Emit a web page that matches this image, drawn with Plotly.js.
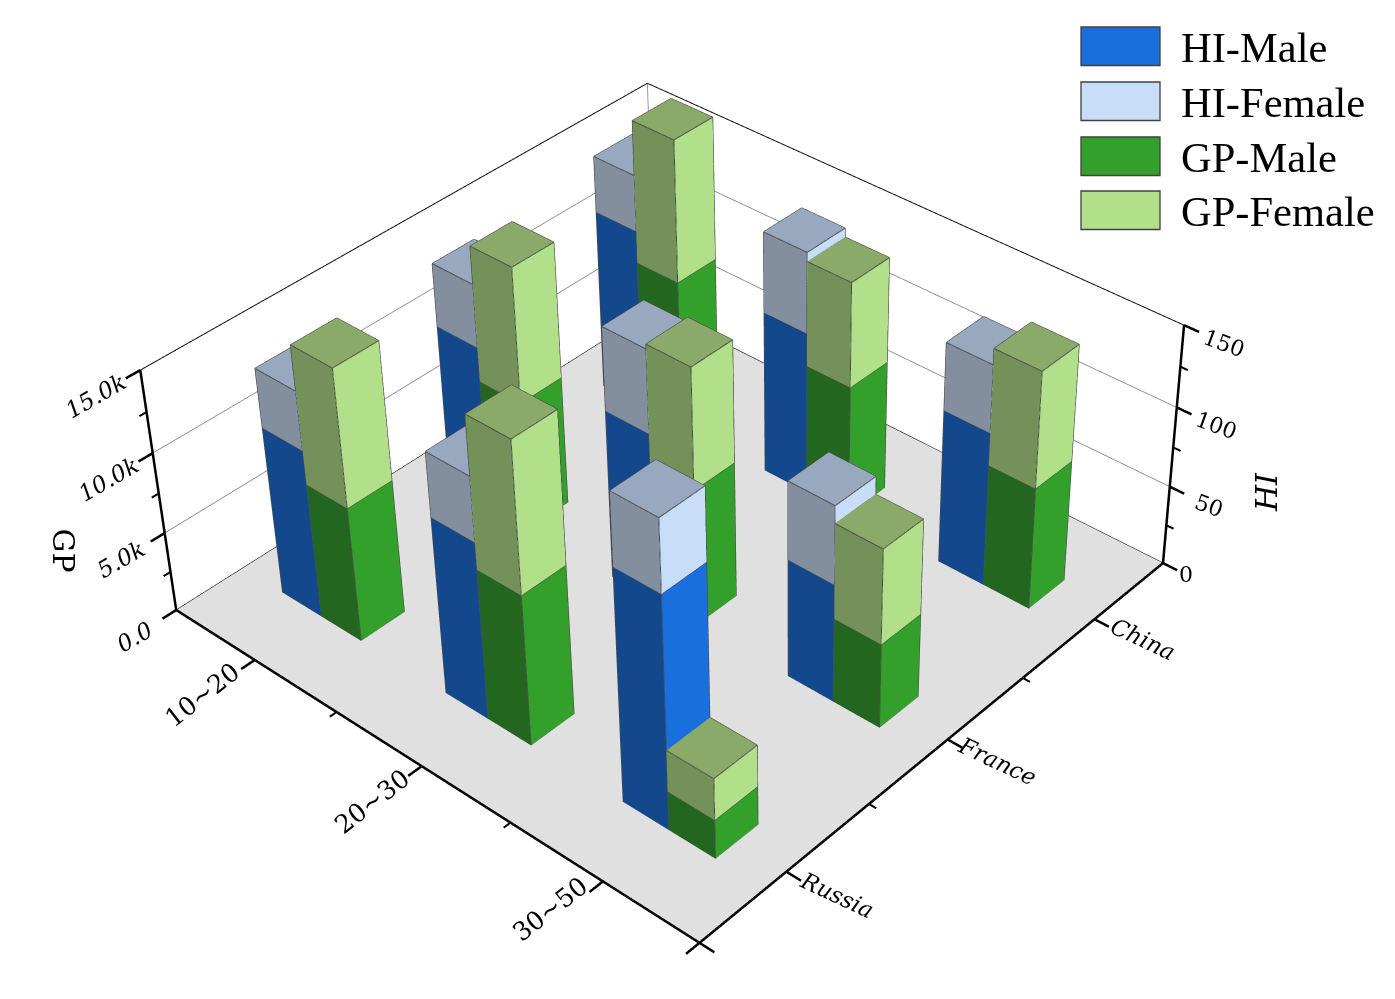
<!DOCTYPE html>
<html><head><meta charset="utf-8">
<script src="https://cdn.plot.ly/plotly-3.0.0.min.js"></script>
<style>html,body{margin:0;padding:0;width:1395px;height:999px;overflow:hidden;background:#fff}
#plot{position:absolute}</style></head>
<body><div id="plot"></div>
<script>
// ---- data ----
var ages = ['10~20','20~30','30~50'];
var countries = ['Russia','France','China'];
var hiMale   = [[105,103,115],[110,106,103],[143,74,97]];
var hiFemale = [[36,39,35],[39,51,50],[43,48,41.6]];
var gpMale   = [[8430,8170,9500],[9365,8560,8250],[2440,5290,7690]];
var gpFemale = [[8400,8340,8850],[9095,7430,6500],[2580,5840,7150]];
var seriesNames = ['HI-Male','HI-Female','GP-Male','GP-Female'];
var gpTicks = [0,5000,10000,15000];
var gpTickText = ['0.0','5.0k','10.0k','15.0k'];
var hiTicks = [0,50,100,150];

// ---- geometry of the view ----
var W=1600,H=2640,CX=794,CY=430;
var plot=document.getElementById('plot');
plot.style.left=(CX-W/2)+'px'; plot.style.top=(CY-H/2)+'px';
var HI_TO_Z=100, BX=0.245, BY=0.125;
var faceCols={
 'HI-Male':  ['#1A6FDF','#13488D','#2a5fa8'],
 'HI-Female':['#C8DDF8','#838F9F','#98A8BE'],
 'GP-Male':  ['#33A02C','#236620','#2f8a2a'],
 'GP-Female':['#B2DF8A','#739158','#89AA69']};

function box(mesh,edges,x0,x1,y0,y1,z0,z1,cols){
  var n=mesh.x.length;
  var c=[[x0,y0,z0],[x1,y0,z0],[x1,y1,z0],[x0,y1,z0],[x0,y0,z1],[x1,y0,z1],[x1,y1,z1],[x0,y1,z1]];
  c.forEach(function(p){mesh.x.push(p[0]);mesh.y.push(p[1]);mesh.z.push(p[2]);});
  function quad(a,b,cc,d,col){mesh.i.push(n+a,n+a);mesh.j.push(n+b,n+cc);mesh.k.push(n+cc,n+d);mesh.facecolor.push(col,col);}
  quad(1,2,6,5,cols[0]);   // +x face
  quad(0,1,5,4,cols[1]);   // -y face
  quad(4,5,6,7,cols[2]);   // top
  [[0,1],[1,2],[1,5],[2,6],[0,4],[4,5],[5,6],[6,7],[7,4]].forEach(function(e){
    edges.x.push(c[e[0]][0],c[e[1]][0],null);
    edges.y.push(c[e[0]][1],c[e[1]][1],null);
    edges.z.push(c[e[0]][2],c[e[1]][2],null);
  });
}
function newMesh(name){return {type:'mesh3d',name:name,x:[],y:[],z:[],i:[],j:[],k:[],facecolor:[],flatshading:true,
  lighting:{ambient:1,diffuse:0,specular:0,roughness:1,fresnel:0},hoverinfo:'name',showscale:false};}
var edges={type:'scatter3d',mode:'lines',x:[],y:[],z:[],line:{color:'#4a4a4a',width:2},hoverinfo:'skip',showlegend:false};
var meshes=seriesNames.map(newMesh);
ages.forEach(function(a,ia){countries.forEach(function(c,ic){
  var cx=ia+1,cy=ic+1;
  var m=hiMale[ia][ic]*HI_TO_Z,f=hiFemale[ia][ic]*HI_TO_Z,g=gpMale[ia][ic],h=gpFemale[ia][ic];
  box(meshes[0],edges,cx-BX,cx,cy-BY,cy+BY,0,m,faceCols['HI-Male']);
  box(meshes[1],edges,cx-BX,cx,cy-BY,cy+BY,m,m+f,faceCols['HI-Female']);
  box(meshes[2],edges,cx,cx+BX,cy-BY,cy+BY,0,g,faceCols['GP-Male']);
  box(meshes[3],edges,cx,cx+BX,cy-BY,cy+BY,g,g+h,faceCols['GP-Female']);
});});

function lineTrace(segs,color,width){
  var t={type:'scatter3d',mode:'lines',x:[],y:[],z:[],line:{color:color,width:width},hoverinfo:'skip',showlegend:false};
  segs.forEach(function(s){t.x.push(s[0],s[3],null);t.y.push(s[1],s[4],null);t.z.push(s[2],s[5],null);});
  return t;
}
var X0=0.5,X1=3.5,Y0=0.5,Y1=3.5,ZT=15000;
var floor={type:'mesh3d',x:[X0,X1,X1,X0],y:[Y0,Y0,Y1,Y1],z:[0,0,0,0],i:[0,0],j:[1,2],k:[2,3],color:'#E0E0E0',
  lighting:{ambient:1,diffuse:0,specular:0},flatshading:true,hoverinfo:'skip',showscale:false};
var wallSeg=[[X0,Y0,ZT,X0,Y1,ZT],[X0,Y1,ZT,X1,Y1,ZT],[X0,Y0,0,X0,Y1,0],[X0,Y1,0,X1,Y1,0]];
var gridSeg=[[X0,Y1,0,X0,Y1,ZT]];
[5000,10000].forEach(function(z){gridSeg.push([X0,Y0,z,X0,Y1,z],[X0,Y1,z,X1,Y1,z]);});
var TL=0.075;
var axSeg=[[X0,Y0,0,X1,Y0,0],[X1,Y0,0,X1,Y1,0],[X0,Y0,0,X0,Y0,ZT],[X1,Y1,0,X1,Y1,ZT]];
[1,2,3].forEach(function(v){axSeg.push([v,Y0,0,v,Y0-TL,0]);axSeg.push([X1,v,0,X1+TL,v,0]);});
[X0,X1].forEach(function(v){axSeg.push([v,Y0,0,v,Y0-TL,0]);});
[Y0,Y1].forEach(function(v){axSeg.push([X1,v,0,X1+TL,v,0]);});
gpTicks.forEach(function(z){axSeg.push([X0,Y0,z,X0,Y0-TL,z],[X1,Y1,z,X1+TL,Y1,z]);});
var minorSeg=[];
[1.5,2.5].forEach(function(v){minorSeg.push([v,Y0,0,v,Y0-TL/2,0],[X1,v,0,X1+TL/2,v,0]);});
[2500,7500,12500].forEach(function(z){minorSeg.push([X0,Y0,z,X0,Y0-TL/2,z],[X1,Y1,z,X1+TL/2,Y1,z]);});

var traces=[floor].concat(meshes,[edges,lineTrace(gridSeg,'#888888',1.7),lineTrace(wallSeg,'#111111',2),lineTrace(axSeg,'#000000',5),lineTrace(minorSeg,'#000000',4)]);

var off={showgrid:false,zeroline:false,showline:false,showticklabels:false,showbackground:false,showspikes:false,ticks:'',title:{text:''}};
var SERIF='"DejaVu Serif", serif';
function lab(x,y,z,text,angle,size,italic,col){return {x:x,y:y,z:z,text:text,textangle:angle,showarrow:false,xanchor:'center',yanchor:'middle',
  font:{family:SERIF,size:size,color:'#000',style:italic?'italic':'normal'}};}
var ann=[];
gpTicks.forEach(function(z,i){ann.push(lab(X0,0.27,z,gpTickText[i],-30,23,true));});
hiTicks.forEach(function(v,i){ann.push(lab(i==0?3.62:3.70,Y1,v*HI_TO_Z,String(v),i==0?0:20,22,false));});
var ageLabelX=[1,2,2.95], ageLabelY=[0.21,0.23,0.26];
ages.forEach(function(a,i){ann.push(lab(ageLabelX[i],ageLabelY[i],0,a,-38,25.5,false));});
countries.forEach(function(c,i){ann.push(lab(3.73,i+1.03,0,c,25,23,true));});
ann.push(lab(X0,0,7500,'GP',90,30,false));
ann.push(lab(3.97,Y1,7500,'HI',-90,30,true));

function px(x){return (x-(CX-W/2))/W;} function py(y){return 1-(y-(CY-H/2))/H;}
var legCols=['#1A6FDF','#C8DDF8','#33A02C','#B2DF8A'];
var legY=[27,82,137,191];
var shapes=seriesNames.map(function(n,i){return {type:'rect',xref:'paper',yref:'paper',x0:px(1081),x1:px(1160),y0:py(legY[i]),y1:py(legY[i]+38.5),
  fillcolor:legCols[i],line:{color:'#404040',width:1.3}};});
var legText=seriesNames.map(function(n,i){return {xref:'paper',yref:'paper',x:px(1179),y:py(legY[i]+20.5),text:n,showarrow:false,xanchor:'left',yanchor:'middle',
  font:{family:'"Liberation Serif", serif',size:42.5,color:'#000'}};});

var layout={width:W,height:H,margin:{l:0,r:0,t:0,b:0,pad:0},paper_bgcolor:'#fff',showlegend:false,shapes:shapes,annotations:legText,
  scene:{domain:{x:[0,1],y:[0,1]},bgcolor:'#fff',
    xaxis:Object.assign({range:[-0.5,4.5]},off),yaxis:Object.assign({range:[-0.5,4.5]},off),zaxis:Object.assign({range:[0,20000]},off),
    aspectmode:'manual',aspectratio:{x:5/3,y:5/3,z:0.557},
    camera:{eye:{x:2.436,y:-2.569,z:2.617},center:{x:0.130,y:0.112,z:0},up:{x:0,y:0,z:1},projection:{type:'perspective'}},
    annotations:ann}};
setTimeout(function(){Plotly.newPlot(plot,traces,layout,{displayModeBar:false});},0);
</script></body></html>
